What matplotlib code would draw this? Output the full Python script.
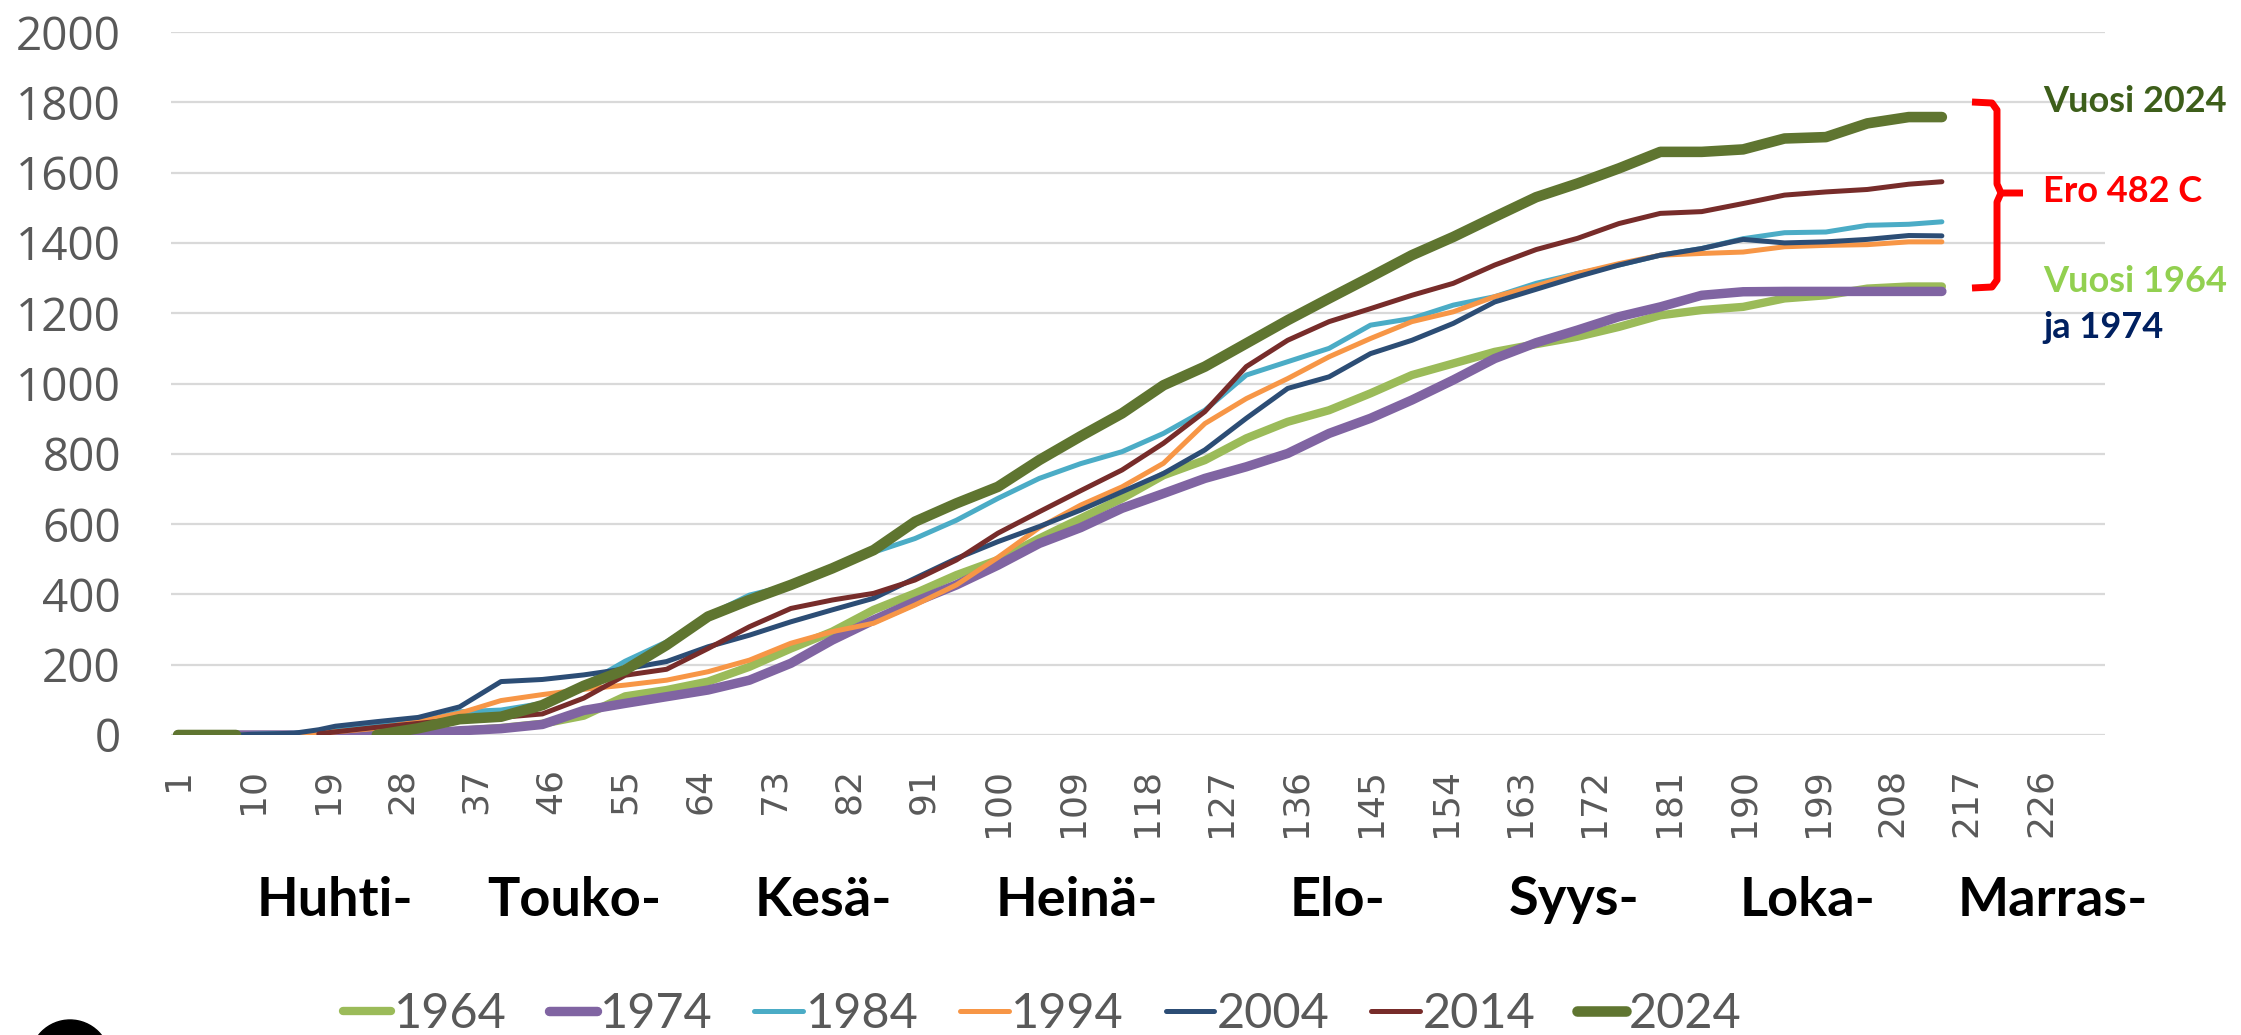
import numpy as np
import matplotlib
matplotlib.use("Agg")
import matplotlib.pyplot as plt
from matplotlib import font_manager
from matplotlib.lines import Line2D
from matplotlib.patches import Ellipse
import matplotlib.transforms as mtransforms

nan = np.nan

# ---------------- data ----------------
days = [1, 5, 8, 10, 15, 18, 20, 25, 30, 35, 40, 45, 50, 55, 60, 65, 70, 75, 80, 85,
        90, 95, 100, 105, 110, 115, 120, 125, 130, 135, 140, 145, 150, 155, 160, 165,
        170, 175, 180, 185, 190, 195, 200, 205, 210, 214]

y1964 = [0, 0, 0, 0, 0, 0, 0, 2, 6, 12, 20, 32, 55, 110, 128, 152, 194, 246, 294, 356,
         403, 455, 498, 559, 616, 673, 739, 782, 844, 891, 924, 972, 1024, 1057, 1090, 1112,
         1133, 1161, 1194, 1209, 1218, 1242, 1251, 1270, 1276, 1276]
y1974 = [0, 0, 0, 0, 0, 0, 0, 0, 2, 12, 18, 30, 70, 90, 109, 128, 156, 204, 270, 327,
         379, 427, 483, 545, 590, 645, 687, 730, 763, 801, 858, 901, 953, 1010, 1071, 1116,
         1152, 1190, 1218, 1251, 1261, 1262, 1262, 1262, 1262, 1262]
y1984 = [0, 0, 0, 2, 5, 10, 15, 27, 38, 66, 71, 90, 142, 210, 265, 340, 398, 427, 474, 520,
         559, 611, 673, 730, 772, 806, 858, 924, 1024, 1062, 1100, 1166, 1185, 1223, 1247, 1285,
         1313, 1337, 1365, 1384, 1412, 1429, 1431, 1450, 1453, 1460]
y1994 = [0, 0, 0, 0, 0, 5, 9, 19, 38, 62, 98, 115, 130, 142, 156, 180, 213, 261, 294, 318,
         370, 427, 505, 590, 654, 706, 773, 886, 957, 1014, 1076, 1128, 1176, 1204, 1247, 1278,
         1313, 1341, 1365, 1370, 1374, 1389, 1393, 1395, 1403, 1403]
y2004 = [0, 0, 0, 2, 5, 15, 25, 38, 50, 80, 152, 158, 171, 188, 209, 251, 284, 322, 356, 389,
         446, 502, 550, 593, 640, 692, 744, 811, 901, 986, 1019, 1085, 1123, 1171, 1232, 1268,
         1304, 1337, 1365, 1384, 1410, 1400, 1403, 1410, 1421, 1420]
y2014 = [nan, nan, nan, nan, nan, 3, 9, 22, 33, 45, 50, 60, 105, 170, 187, 246, 308, 360, 384, 403,
         441, 498, 574, 635, 695, 754, 830, 920, 1048, 1123, 1176, 1213, 1251, 1285, 1337, 1381,
         1413, 1455, 1484, 1489, 1512, 1536, 1545, 1552, 1567, 1574]
y2024 = [0, 0, 0, nan, nan, nan, nan, 0, 19, 45, 52, 85, 140, 185, 256, 337, 384, 427, 474, 526,
         607, 659, 706, 782, 850, 915, 995, 1048, 1114, 1180, 1242, 1303, 1365, 1417, 1474, 1530,
         1569, 1612, 1659, 1659, 1666, 1697, 1701, 1740, 1758, 1758]

series_names = ["1964", "1974", "1984", "1994", "2004", "2014", "2024"]
series_values = [y1964, y1974, y1984, y1994, y2004, y2014, y2024]

x_tick_values = list(range(1, 227, 9))
y_tick_values = list(range(0, 2001, 200))

month_labels = ["Huhti-", "Touko-", "Kesä-", "Heinä-", "Elo-", "Syys-", "Loka-", "Marras-"]

# ---------------- style ----------------
colors = ["#9BBB59", "#8064A2", "#4BACC6", "#F79646", "#2C4D75", "#772C2A", "#5F7530"]
widths = [6.0, 6.8, 3.6, 3.6, 3.6, 3.6, 7.6]

avail = {f.name for f in font_manager.fontManager.ttflist}


def pick(*names):
    for n in names:
        if n in avail:
            return n
    return "DejaVu Sans"


F_Y = pick("Open Sans", "Noto Sans")
F_BOLD = pick("Lato", "Open Sans")
F_LEG = pick("Liberation Sans Narrow", "Lato")
GRAY = "#595959"

W, H = 2241, 1035
fig = plt.figure(figsize=(W / 100, H / 100), dpi=100)
px = mtransforms.Affine2D().scale(1 / W, -1 / H).translate(0, 1) + fig.transFigure

ax = fig.add_axes([171 / W, 300 / H, 1934 / W, 703 / H])

for name, vals, c, lw in zip(series_names, series_values, colors, widths):
    ax.plot(days, vals, color=c, lw=lw, solid_capstyle="round",
            solid_joinstyle="round", label=name)

ax.set_xlim(0.15, 233.7)
ax.set_ylim(0, 2000)
ax.set_yticks(y_tick_values)
ax.set_xticks(x_tick_values)
ax.set_xticklabels([str(v) for v in x_tick_values], rotation=90,
                   fontsize=26, color=GRAY, family="DejaVu Sans")
ax.set_yticklabels([str(v) for v in y_tick_values], fontsize=33, color=GRAY, family=F_Y)
ax.tick_params(axis="both", length=0)
ax.tick_params(axis="y", pad=36)
ax.tick_params(axis="x", pad=24)
ax.yaxis.grid(True, color="#D9D9D9", lw=1.6)
ax.set_axisbelow(True)
for s in ax.spines.values():
    s.set_visible(False)

# month labels under the axis
month_pos = [20.0, 48.9, 78.9, 109.6, 141.0, 169.6, 197.8, 227.4]
blend = mtransforms.blended_transform_factory(ax.transData, fig.transFigure)
for lab, xp in zip(month_labels, month_pos):
    fig.text(xp, 135 / H, lab, transform=blend, ha="center", va="center",
             fontsize=39, fontweight="bold", family=F_BOLD, color="black")

# bracket
red = "#FF0000"
ax.plot([1972, 1992, 1997, 1997, 2001, 2023], [102, 103, 110, 184, 193, 193],
        transform=px, color=red, lw=5, solid_joinstyle="round", solid_capstyle="butt",
        clip_on=False)
ax.plot([2001, 1997, 1997, 1992, 1972], [193, 202, 280, 287, 288],
        transform=px, color=red, lw=5, solid_joinstyle="round", solid_capstyle="butt",
        clip_on=False)

ann = [("Vuosi 2024", 102, "#3D5E1A"), ("Ero 482 C", 192, red),
       ("Vuosi 1964", 282, "#92D050"), ("ja 1974", 327, "#002060")]
for t, yy, c in ann:
    fig.text(2043, yy, t, transform=px, ha="left", va="center", fontsize=26,
             fontweight="bold", family=F_BOLD, color=c)

# legend
handles = [Line2D([], [], color=c, lw=lw, solid_capstyle="round")
           for c, lw in zip(colors, widths)]
fig.legend(handles, series_names, loc="center", bbox_to_anchor=(0.465, 21 / H),
           ncol=7, frameon=False, prop={"family": F_LEG, "size": 35},
           labelcolor=GRAY, handlelength=1.0, handletextpad=0.06,
           columnspacing=0.85, borderpad=0, borderaxespad=0)

# partial logo at bottom-left
fig.add_artist(Ellipse((70, 1060), 80, 80, transform=px, color="black", clip_on=False))

fig.savefig("out.png", dpi=100)
